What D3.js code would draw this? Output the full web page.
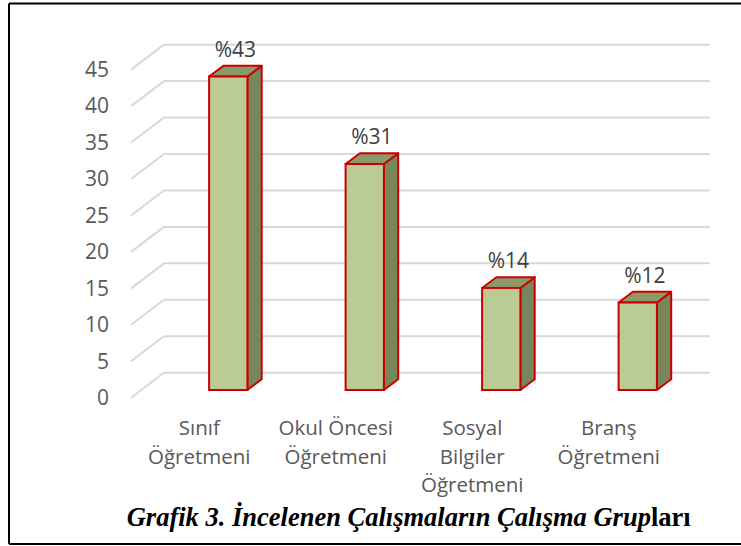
<!DOCTYPE html>
<html>
<head>
<meta charset="utf-8">
<script src="https://cdn.jsdelivr.net/npm/d3@7"></script>
<style>
	body { margin: 0; background: #fff; }
	svg { display: block; }
</style>
</head>
<body>
<script>
// chart data
var categories = ["Sınıf Öğretmeni", "Okul Öncesi Öğretmeni", "Sosyal Bilgiler Öğretmeni", "Branş Öğretmeni"];
var categoryLines = [["Sınıf", "Öğretmeni"], ["Okul Öncesi", "Öğretmeni"], ["Sosyal", "Bilgiler", "Öğretmeni"], ["Branş", "Öğretmeni"]];
var values = [43, 31, 14, 12];
var valueLabels = ["%43", "%31", "%14", "%12"];
var yTicks = [0, 5, 10, 15, 20, 25, 30, 35, 40, 45];
var titleMain = "Grafik 3. İncelenen Çalışmaların Çalışma Grup";
var titleTail = "ları";

var W = 741, H = 546;
var svg = d3.select("body").append("svg")
	.attr("width", W)
	.attr("height", H);

// front plane scales (floor front edge)
var x = d3.scaleBand()
	.domain(categories)
	.range([131, 677])
	.paddingInner(0)
	.paddingOuter(0);

var y = d3.scaleLinear()
	.domain([0, 45])
	.range([397.7, 69.65]);

// depth offsets
var wallDx = 33, wallDy = -25;     // back wall relative to front plane
var barDx = 29, barDy = -7.7;      // bar front face relative to front plane
var depthDx = 14.3, depthDy = -10.7;  // bar depth
var barW = 38.3;

// frame
svg.append("line").attr("x1", 9).attr("y1", 3.5).attr("x2", W).attr("y2", 3.5)
	.attr("stroke", "#000").attr("stroke-width", 2);
svg.append("line").attr("x1", 9).attr("y1", 3.5).attr("x2", 9).attr("y2", 544)
	.attr("stroke", "#000").attr("stroke-width", 2);
svg.append("line").attr("x1", 9).attr("y1", 544).attr("x2", W).attr("y2", 544)
	.attr("stroke", "#000").attr("stroke-width", 2);

// gridlines: diagonal on the side wall + horizontal on back wall
var grid = svg.append("g").attr("class", "grid");
var x0 = x.range()[0];
grid.selectAll(".diag")
	.data(yTicks)
	.enter().append("line")
	.attr("x1", x0)
	.attr("y1", function (d) { return y(d); })
	.attr("x2", x0 + wallDx)
	.attr("y2", function (d) { return y(d) + wallDy; })
	.attr("stroke", "#d9d9d9")
	.attr("stroke-width", 2);
grid.selectAll(".back")
	.data(yTicks)
	.enter().append("line")
	.attr("x1", x0 + wallDx)
	.attr("y1", function (d) { return y(d) + wallDy; })
	.attr("x2", x.range()[1] + wallDx)
	.attr("y2", function (d) { return y(d) + wallDy; })
	.attr("stroke", "#d9d9d9")
	.attr("stroke-width", 2);

// y axis labels
svg.append("g").selectAll("text")
	.data(yTicks)
	.enter().append("text")
	.attr("x", 109)
	.attr("y", function (d) { return y(d); })
	.attr("dy", "0.35em")
	.attr("text-anchor", "end")
	.attr("font-family", "Open Sans, Noto Sans, sans-serif")
	.attr("font-size", 21)
	.attr("fill", "#595959")
	.text(function (d) { return d; });

// 3d bars
var bars = svg.append("g").selectAll(".bar")
	.data(values)
	.enter().append("g")
	.attr("class", "bar");

function fx(i) { return x(categories[i]) + x.bandwidth() / 2 - barW / 2 + barDx; }
var base = y(0) + barDy;

bars.append("polygon") // side face
	.attr("points", function (d, i) {
		var l = fx(i) + barW, t = y(d) + barDy;
		return [[l, base], [l + depthDx, base + depthDy], [l + depthDx, t + depthDy], [l, t]].join(" ");
	})
	.attr("fill", "#78865c")
	.attr("stroke", "#cc0000")
	.attr("stroke-width", 2)
	.attr("stroke-linejoin", "round");

bars.append("polygon") // top face
	.attr("points", function (d, i) {
		var l = fx(i), t = y(d) + barDy;
		return [[l, t], [l + depthDx, t + depthDy], [l + barW + depthDx, t + depthDy], [l + barW, t]].join(" ");
	})
	.attr("fill", "#8c9a6b")
	.attr("stroke", "#cc0000")
	.attr("stroke-width", 2)
	.attr("stroke-linejoin", "round");

bars.append("rect") // front face
	.attr("x", function (d, i) { return fx(i); })
	.attr("y", function (d) { return y(d) + barDy; })
	.attr("width", barW)
	.attr("height", function (d) { return y(0) - y(d); })
	.attr("fill", "#bbcb95")
	.attr("stroke", "#cc0000")
	.attr("stroke-width", 2);

// value labels
bars.append("text")
	.attr("x", function (d, i) { return fx(i) + barW / 2 + depthDx / 2; })
	.attr("y", function (d) { return y(d) + barDy + depthDy - 9; })
	.attr("text-anchor", "middle")
	.attr("font-family", "Open Sans, Noto Sans, sans-serif")
	.attr("font-size", 21)
	.attr("fill", "#404040")
	.text(function (d, i) { return valueLabels[i]; });

// category labels
var cat = svg.append("g").selectAll(".cat")
	.data(categories)
	.enter().append("text")
	.attr("class", "cat")
	.attr("text-anchor", "middle")
	.attr("font-family", "Open Sans, Noto Sans, sans-serif")
	.attr("font-size", 20.5)
	.attr("fill", "#595959");
cat.selectAll("tspan")
	.data(function (d, i) { return categoryLines[i].map(function (s) { return { s: s, c: d }; }); })
	.enter().append("tspan")
	.attr("x", function (d) { return x(d.c) + x.bandwidth() / 2; })
	.attr("y", function (d, j) { return 435 + j * 28.5; })
	.text(function (d) { return d.s; });

// caption
var title = svg.append("text")
	.attr("x", 126.7)
	.attr("y", 526)
	.attr("font-family", "Liberation Serif, Times New Roman, serif")
	.attr("font-size", 26.5)
	.attr("font-weight", "bold")
	.attr("fill", "#000");
title.append("tspan").attr("font-style", "italic").text(titleMain);
title.append("tspan").text(titleTail);
</script>
</body>
</html>
